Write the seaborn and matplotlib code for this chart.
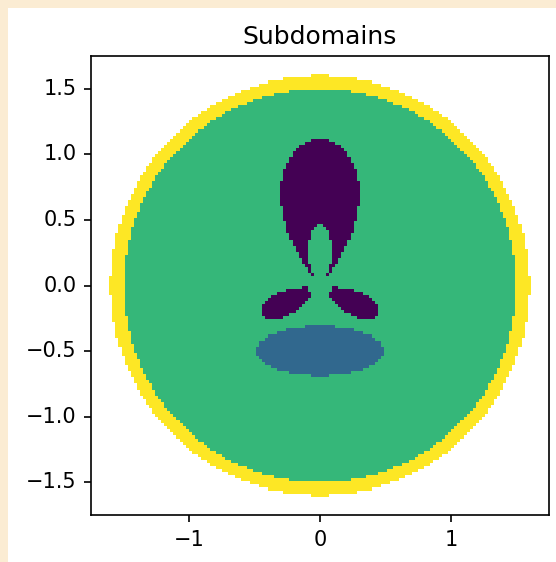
import numpy as np
import matplotlib
matplotlib.use("Agg")
import matplotlib.pyplot as plt
from matplotlib.patches import Rectangle
import seaborn as sns

# Domain and sampling of the label field
DOMAIN_HALF = 1.75
N_CELLS = 150

# Outer disk and its boundary ring (label 3 = ring, 2 = interior)
DISK_RADIUS = 1.6
RING_WIDTH = 0.1

# Lower ellipse inclusion (label 1)
ELLIPSE_CENTER = (0.0, -0.5)
ELLIPSE_AXES = (0.49, 0.19)

# Petal inclusion (label 0): one petal per entry, polar shape around the origin
LOBE_ANGLES = [90, 207, 333]      # direction of each petal tip (deg)
LOBE_RADII = [1.12, 0.5, 0.5]     # distance of the tip from the origin
LOBE_HALFSPAN = [40, 23, 23]      # angular half width (deg)
LOBE_POWER = [0.8, 0.5, 0.5]      # fullness of the petal
LOBE_CORE = 0.1
HOLE_CENTER = (0.0, 0.26)
HOLE_AXES = (0.09, 0.21)

XTICKS = [-1, 0, 1]
YTICKS = [1.5, 1.0, 0.5, 0.0, -0.5, -1.0, -1.5]


def build_field():
    dx = 2 * DOMAIN_HALF / N_CELLS
    c = np.linspace(-DOMAIN_HALF + dx / 2, DOMAIN_HALF - dx / 2, N_CELLS)
    X, Y = np.meshgrid(c, c)
    r = np.hypot(X, Y)
    t = np.degrees(np.arctan2(Y, X))

    field = np.full(X.shape, 3.0)
    field[r < DISK_RADIUS - RING_WIDTH] = 2

    ex, ey = ELLIPSE_CENTER
    ea, eb = ELLIPSE_AXES
    field[((X - ex) / ea) ** 2 + ((Y - ey) / eb) ** 2 < 1] = 1

    lobes = np.zeros(X.shape, dtype=bool)
    for ang, rad, half, pw in zip(LOBE_ANGLES, LOBE_RADII, LOBE_HALFSPAN, LOBE_POWER):
        d = (t - ang + 180) % 360 - 180
        shape = np.clip(np.cos(np.radians(d * 90 / half)), 0, None) ** pw
        shape[np.abs(d) >= half] = 0
        lobes |= r < rad * shape
    hx, hy = HOLE_CENTER
    ha, hb = HOLE_AXES
    hole = ((X - hx) / ha) ** 2 + ((Y - hy) / hb) ** 2 < 1
    lobes &= ~hole & (r > LOBE_CORE)
    field[lobes] = 0

    mask = r >= DISK_RADIUS
    # heatmap rows run top to bottom
    return field[::-1], mask[::-1], dx


def main():
    field, mask, dx = build_field()

    fig = plt.figure(figsize=(556 / 150, 562 / 150), dpi=150, facecolor="#fbecd3")
    fig.add_artist(Rectangle((8 / 556, 0), 1, 1 - 8 / 562, transform=fig.transFigure,
                             facecolor="white", edgecolor="none", zorder=-10))
    ax = fig.add_axes([91 / 556, 47 / 562, 458 / 556, 459 / 562])

    sns.heatmap(field, mask=mask, cmap="viridis", vmin=0, vmax=3, cbar=False, ax=ax)

    ax.set_xticks([(v + DOMAIN_HALF) / dx for v in XTICKS])
    ax.set_xticklabels([f"{v:g}".replace("-", "\u2212") for v in XTICKS], rotation=0)
    ax.set_yticks([(DOMAIN_HALF - v) / dx for v in YTICKS])
    ax.set_yticklabels([f"{v:.1f}".replace("-", "\u2212") for v in YTICKS], rotation=0)
    ax.tick_params(length=3.5, width=0.8, direction="out", labelsize=10, colors="black")

    for sp in ax.spines.values():
        sp.set_visible(True)
        sp.set_linewidth(0.8)
        sp.set_color("black")

    ax.set_title("Subdomains", fontsize=12)
    fig.savefig("out.png", dpi=150, facecolor=fig.get_facecolor())


if __name__ == "__main__":
    main()
